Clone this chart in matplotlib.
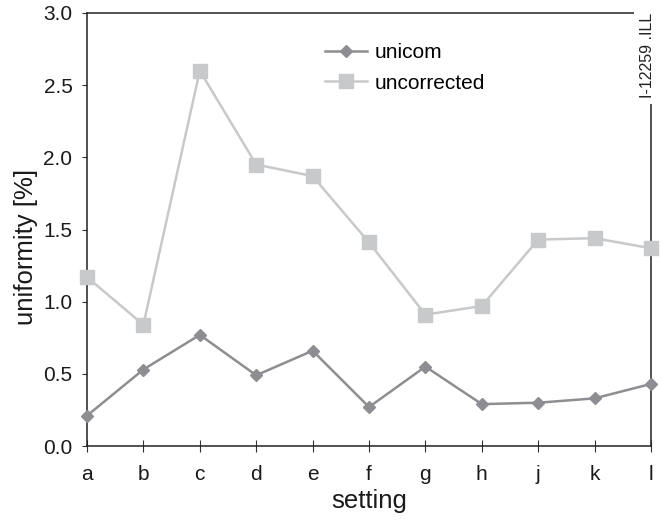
import matplotlib.pyplot as plt

plt.rcParams['font.family'] = ['Liberation Sans', 'DejaVu Sans']

settings = ['a', 'b', 'c', 'd', 'e', 'f', 'g', 'h', 'j', 'k', 'l']
unicom = [0.21, 0.53, 0.77, 0.49, 0.66, 0.27, 0.55, 0.29, 0.30, 0.33, 0.43]
uncorrected = [1.17, 0.84, 2.60, 1.95, 1.87, 1.41, 0.91, 0.97, 1.43, 1.44, 1.37]

W, H = 661, 520
fig = plt.figure(figsize=(W / 100, H / 100), dpi=100)
# axes box in pixels: left 87, right 651, top 13, bottom 446
ax = fig.add_axes([87 / W, (H - 446) / H, (651 - 87) / W, (446 - 13) / H])

x = list(range(len(settings)))
ax.plot(x, unicom, color='#8e8e92', lw=1.8, marker='D', ms=6.5,
        clip_on=False, label='unicom', zorder=3)
ax.plot(x, uncorrected, color='#c8c9cb', lw=1.8, marker='s', ms=9.5,
        clip_on=False, label='uncorrected', zorder=3)

ax.set_xlim(0, len(settings) - 1)
ax.set_ylim(0, 3.0)
ax.set_xticks(x)
ax.set_xticklabels(settings)
ax.set_yticks([0, 0.5, 1.0, 1.5, 2.0, 2.5, 3.0])
ax.set_yticklabels(['0.0', '0.5', '1.0', '1.5', '2.0', '2.5', '3.0'])
ax.tick_params(axis='x', direction='inout', length=8, labelsize=15, pad=10,
               color='#333333', labelcolor='#1a1a1a')
ax.tick_params(axis='y', direction='out', length=3.5, labelsize=15, pad=7,
               color='#333333', labelcolor='#1a1a1a')
for sp in ax.spines.values():
    sp.set_color('#222222')
    sp.set_linewidth(1.1)

ax.set_xlabel('setting', fontsize=18.5, labelpad=3, color='#1a1a1a')
ax.set_ylabel('uniformity [%]', fontsize=18.5, color='#1a1a1a')
ax.yaxis.set_label_coords(-0.087, 0.46)

ax.legend(loc='upper left', bbox_to_anchor=(0.422, 0.93), frameon=False,
          fontsize=15, handlelength=2.0, labelspacing=0.55, handletextpad=0.4,
          borderpad=0, borderaxespad=0)

fig.text(647 / W, 1 - 13 / H, 'I-12259 .ILL', rotation=90, ha='center', va='top',
         fontsize=11.5, color='#222222',
         bbox=dict(facecolor='white', edgecolor='none', pad=4))

fig.savefig('out.png', dpi=100)
